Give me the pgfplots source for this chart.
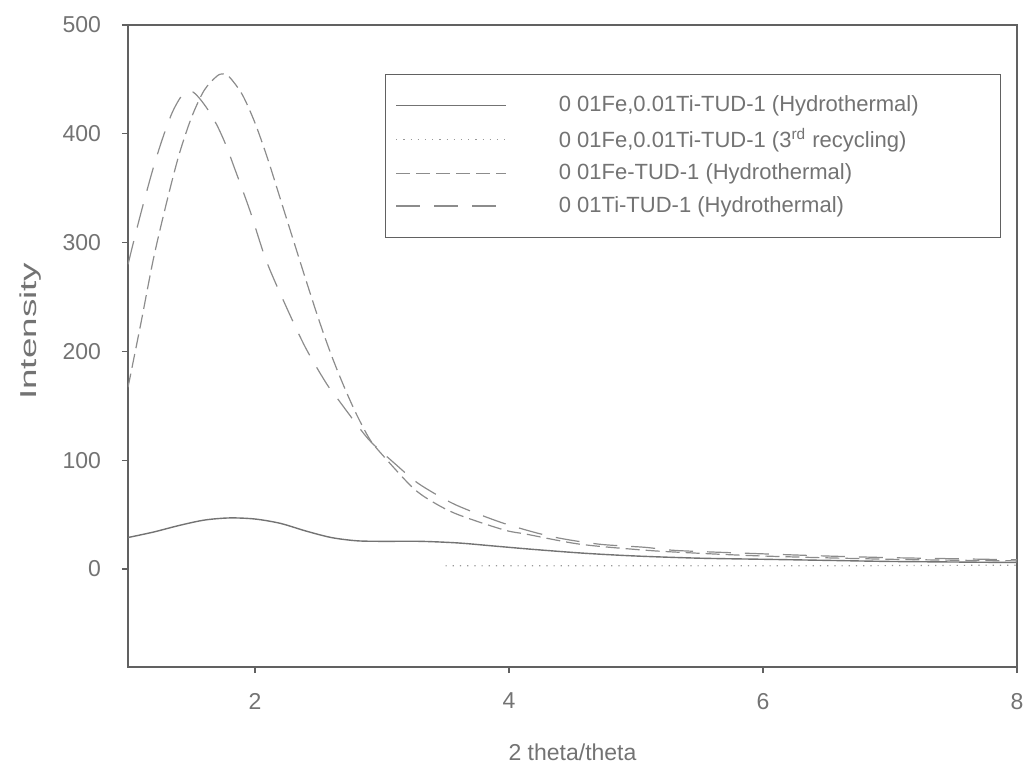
\documentclass[border=0pt]{standalone}
\usepackage{pgfplots}
\pgfplotsset{compat=1.18}
\usepackage{fontspec}
\setmainfont{Liberation Sans}
\definecolor{txt}{gray}{0.45}
\definecolor{axc}{gray}{0.38}
\definecolor{lsolid}{gray}{0.45}
\definecolor{ldash}{gray}{0.55}
\definecolor{ldot}{gray}{0.6}
\begin{document}
\begin{tikzpicture}
\path[use as bounding box] (-64pt,-52.5pt) rectangle (449pt,333.5pt);
\begin{axis}[
  at={(0pt,0pt)}, anchor=south west,
  scale only axis, width=444.5pt, height=321pt,
  xmin=1, xmax=8, ymin=-90, ymax=500,
  xtick={2,4,6,8}, ytick={0,100,200,300,400,500},
  axis line style={axc, line width=0.6pt},
  tick style={axc, line width=0.6pt},
  tick align=outside, tickwidth=3pt,
  xtick pos=bottom, ytick pos=left,
  font=\fontsize{11.5}{14}\selectfont,
  /pgf/number format/assume math mode=true,
  ticklabel style={txt},
  yticklabel style={xshift=-7pt},
  xticklabel style={yshift=-6.5pt},
  xlabel={2 theta/theta},
  ylabel={\scalebox{1.6}[1]{Intensity}},
  label style={txt},
  xlabel style={at={(axis description cs:0.5,0)}, anchor=center, yshift=-42.5pt},
  ylabel style={anchor=center},
  every axis y label/.append style={at={(axis description cs:-0.110,0.523)}},
  legend style={at={(0.289,0.924)}, anchor=north west, draw=axc, line width=0.5pt,
     text=txt, font=\fontsize{11}{13}\selectfont, inner xsep=5pt, inner ysep=8.75pt, row sep=2.8pt},
  legend cell align=left,
  legend image code/.code={\draw[#1] (0pt,0pt) -- (55pt,0pt); \path (79pt,0pt);},
]
\addplot[lsolid, line width=0.7pt, smooth] coordinates {
(1.0,29) (1.2,34) (1.4,40) (1.6,45) (1.8,47) (2.0,46) (2.2,42) (2.4,35) (2.6,29) (2.8,26) (3.0,25.5) (3.3,25.5) (3.6,24) (3.9,21) (4.2,18) (4.6,14.5) (5.0,12) (5.5,10) (6.0,9) (6.5,8) (7.0,7) (7.5,6.5) (8.0,6)
};
\addlegendentry{0 01Fe,0.01Ti-TUD-1 (Hydrothermal)\hspace*{34pt}}
\addplot[ldot, line width=0.6pt, dash pattern=on 0.6pt off 3pt] coordinates {
(3.5,3) (4.0,3) (4.5,3) (5.0,3) (5.5,3) (6.0,3) (6.5,3) (7.0,3.2) (7.5,3.4) (8.0,3.5)
};
\addlegendentry{0 01Fe,0.01Ti-TUD-1 (3\textsuperscript{rd} recycling)}
\addplot[ldash, line width=0.6pt, smooth, dash pattern=on 7pt off 3pt] coordinates {
(1.0,167) (1.1,225) (1.2,285) (1.3,335) (1.4,380) (1.5,415) (1.6,440) (1.7,453) (1.75,455) (1.8,452) (1.9,436) (2.0,410) (2.1,377) (2.2,340) (2.3,303) (2.4,266) (2.5,230) (2.6,197) (2.7,168) (2.8,142) (2.9,120) (2.98,108) (3.24,75) (3.41,61) (3.6,50) (3.96,36) (4.14,32) (4.55,23) (5.0,18) (5.33,15.5) (6.0,12) (7.0,9) (8.0,7.5)
};
\addlegendentry{0 01Fe-TUD-1 (Hydrothermal)}
\addplot[ldash, line width=0.6pt, smooth, dash pattern=on 12pt off 7pt] coordinates {
(1.0,280) (1.09,322) (1.19,365) (1.27,395) (1.35,420) (1.43,436) (1.5,439) (1.56,433) (1.63,422) (1.70,408) (1.77,390) (1.84,368) (1.9,349) (1.97,326) (2.09,283) (2.25,240) (2.4,203) (2.56,171) (2.66,155) (2.82,130) (2.92,116) (3.11,96) (3.27,80) (3.45,67) (3.62,57) (3.96,42) (4.33,30) (4.7,23) (5.07,20) (5.33,17) (6.0,14) (6.5,12) (7.0,10.5) (7.5,9.5) (8.0,8.5)
};
\addlegendentry{0 01Ti-TUD-1 (Hydrothermal)}
\end{axis}
\end{tikzpicture}
\end{document}
